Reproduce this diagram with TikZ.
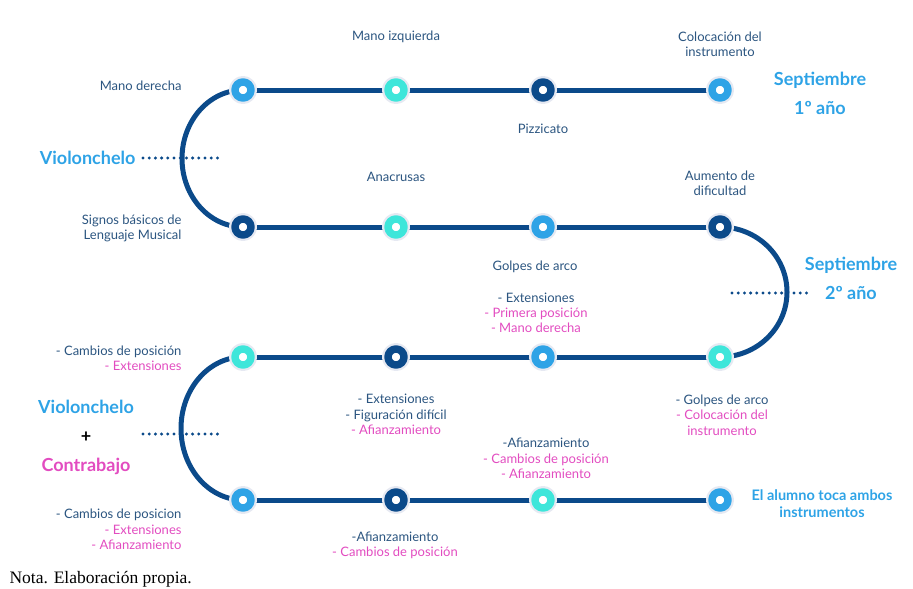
\documentclass[tikz,border=0pt]{standalone}
\usepackage{fontspec}
\setmainfont{Lato}
\newfontfamily\notafont{Liberation Serif}
\usetikzlibrary{backgrounds}
\definecolor{claro}{HTML}{2EA3E6}
\definecolor{turq}{HTML}{3EE6DA}
\definecolor{marino}{HTML}{0B4A8A}
\definecolor{txt}{HTML}{2B5580}
\definecolor{rosa}{HTML}{E24CC0}
\definecolor{halo}{HTML}{E6E9F2}
\newcommand{\rs}[1]{\textcolor{rosa}{#1}}
\begin{document}
\begin{tikzpicture}[x=1pt,y=1pt,line cap=round,line join=round,font=\fontsize{13}{15.3}\selectfont,
	hito/.style={circle,fill=white,draw=#1,line width=7.5pt,minimum size=16pt,inner sep=0pt,preaction={draw=halo,line width=12pt}},
	via/.style={marino,line width=5pt,line cap=round},
	punteado/.style={marino,line width=3.3pt,line cap=round,dash pattern=on 0pt off 6.2pt},
	et/.style={text=txt,align=center},
	tit/.style={font=\bfseries\fontsize{18}{29}\selectfont,text=claro,align=center}]
	\useasboundingbox (0,0) rectangle (913,-589);
	% hitos
	\node[hito=claro] (a1) at (243,-90) {};
	\node[hito=turq] (a2) at (396,-90) {};
	\node[hito=marino] (a3) at (543,-90) {};
	\node[hito=claro] (a4) at (720,-90) {};
	\node[hito=marino] (b1) at (243,-227) {};
	\node[hito=turq] (b2) at (396,-227) {};
	\node[hito=claro] (b3) at (543,-227) {};
	\node[hito=marino] (b4) at (720,-227) {};
	\node[hito=turq] (c1) at (243,-357) {};
	\node[hito=marino] (c2) at (396,-357) {};
	\node[hito=claro] (c3) at (543,-357) {};
	\node[hito=turq] (c4) at (720,-357) {};
	\node[hito=claro] (d1) at (243,-500) {};
	\node[hito=marino] (d2) at (396,-500) {};
	\node[hito=turq] (d3) at (543,-500) {};
	\node[hito=claro] (d4) at (720,-500) {};
	\coordinate (p1) at (143,-158); \coordinate (q1) at (221,-158);
	\coordinate (p2) at (732,-293); \coordinate (q2) at (808,-293);
	\coordinate (p3) at (143,-434); \coordinate (q3) at (221,-434);
	\begin{scope}[on background layer]
		\draw[via] (a1) -- (a2) -- (a3) -- (a4);
		\draw[via] (b1) -- (b2) -- (b3) -- (b4);
		\draw[via] (c1) -- (c2) -- (c3) -- (c4);
		\draw[via] (d1) -- (d2) -- (d3) -- (d4);
		\draw[via] (a1.center) arc[start angle=90,end angle=270,x radius=61,y radius=68.5];
		\draw[via] (b4.center) arc[start angle=90,end angle=-90,x radius=67,y radius=65];
		\draw[via] (c1.center) arc[start angle=90,end angle=270,x radius=62,y radius=71.5];
		\draw[punteado] (p1) -- (q1);
		\draw[punteado] (p2) -- (q2);
		\draw[punteado] (p3) -- (q3);
	\end{scope}
	% textos fila 1
	\node[et,anchor=east] at (185,-86) {Mano derecha};
	\node[et] at (396,-37) {Mano izquierda};
	\node[et] at (543,-129) {Pizzicato};
	\node[et] at (720,-44.5) {Colocación del\\instrumento};
	\node[tit] at (820,-93.5) {Septiembre\\1º año};
	\node[tit,anchor=east] at (139,-158) {Violonchelo};
	% fila 2
	\node[et,anchor=east,align=right] at (185,-228.5) {Signos básicos de\\Lenguaje Musical};
	\node[et] at (396,-177) {Anacrusas};
	\node[et] at (720,-183.5) {Aumento de\\dificultad};
	\node[et] at (535,-267) {Golpes de arco};
	\node[et] at (536,-313) {- Extensiones\\\rs{- Primera posición}\\\rs{- Mano derecha}};
	\node[tit] at (851,-278) {Septiembre\\2º año};
	% fila 3
	\node[et,anchor=east,align=right] at (185,-358.5) {- Cambios de posición\\\rs{- Extensiones}};
	\node[et] at (396,-414.5) {- Extensiones\\- Figuración difícil\\\rs{- Afianzamiento}};
	\node[et] at (722,-415) {- Golpes de arco\\\rs{- Colocación del}\\\rs{instrumento}};
	\node[et] at (546,-458.5) {-Afianzamiento\\\rs{- Cambios de posición}\\\rs{- Afianzamiento}};
	\node[tit] at (86,-437) {Violonchelo\\\textcolor{black}{+}\\\textcolor{rosa}{Contrabajo}};
	% fila 4
	\node[et,anchor=east,align=right] at (185,-529.5) {- Cambios de posicion\\\rs{- Extensiones}\\\rs{- Afianzamiento}};
	\node[et] at (395,-545) {-Afianzamiento\\\rs{- Cambios de posición}};
	\node[tit,font=\bfseries\fontsize{14.5}{17}\selectfont] at (822,-503.5) {El alumno toca ambos\\instrumentos};
	\node[anchor=west,font=\notafont\fontsize{17.5}{20}\selectfont] at (6,-579) {Nota. Elaboración propia.};
\end{tikzpicture}
\end{document}
